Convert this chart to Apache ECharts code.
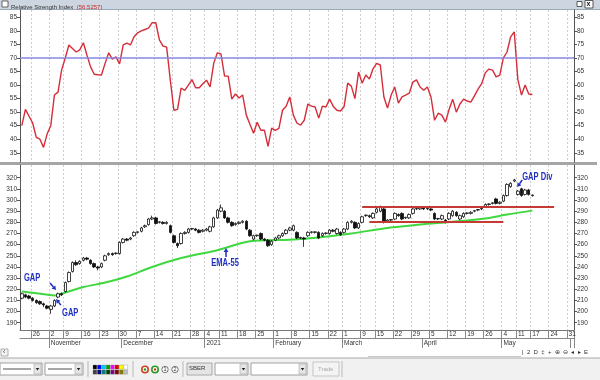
<!DOCTYPE html>
<html>
<head>
<meta charset="utf-8">
<script src="https://cdn.jsdelivr.net/npm/echarts@6/dist/echarts.min.js"></script>
<style>
html, body { margin: 0; padding: 0; background: #fff; }
#chart { width: 600px; height: 380px; }
</style>
</head>
<body>
<div id="chart"></div>
<script>
// trading calendar (MOEX), weekends and these holidays are skipped
const firstDay = '2020-10-21';
const lastDay = '2021-06-01';
const holidays = ['2020-11-04', '2021-01-01', '2021-01-07', '2021-02-23', '2021-03-08', '2021-05-03', '2021-05-10'];
const monthNames = ['2021', 'February', 'March', 'April', 'May', '', '', '', '', 'October', 'November', 'December'];

// SBER daily candles: [open, close, low, high]
const candles = [
    [212, 216, 211, 217], [215, 213, 212, 216], [214, 212, 211, 215], [212, 210, 209, 213], [210, 208, 207, 211],
    [209, 207, 206, 210], [207, 206, 204, 208], [205, 203, 202, 206], [202, 205, 198, 206], [205, 210, 204, 211],
    [213, 216, 212, 217], [216, 215, 214, 217], [218, 226, 217, 227], [227, 235, 226, 236], [236, 244, 235, 245],
    [244, 242, 241, 246], [243, 245, 242, 246], [246, 248, 245, 249], [248, 247, 246, 249], [246, 243, 242, 247],
    [243, 240, 239, 244], [240, 239, 237, 241], [240, 243, 239, 244], [246, 250, 245, 251], [251, 252, 250, 253],
    [252, 251, 250, 253], [252, 252.5, 251, 253], [252, 262, 251, 263], [262, 265, 261, 266], [265, 264, 263, 266],
    [265, 266, 264, 267], [268, 271, 267, 272], [271, 271.5, 270, 272], [272, 275, 271, 276], [276, 277, 275, 278],
    [278, 283, 277, 284], [283, 284, 282, 286], [284, 279, 278, 285], [280, 280.5, 279, 281], [280, 279, 278, 281],
    [279, 280, 278, 281], [277, 271, 270, 278], [268, 262, 261, 269], [261, 259, 257, 262], [261, 270, 260, 271],
    [270, 271, 269, 272], [271, 274, 270, 275], [274, 274.5, 273, 275], [274, 273, 272, 275], [273, 271, 270, 274],
    [272, 273, 271, 274], [273, 274, 272, 275], [272, 276, 271, 277], [276, 284, 275, 285], [284, 291, 283, 292],
    [290, 293, 289, 296], [290, 284, 283, 291], [284, 280, 279, 285], [280, 277, 276, 281], [278, 279, 277, 280],
    [279, 280, 278, 281], [280, 281, 279, 282], [281, 274, 273, 282], [273, 268, 267, 274], [265, 268, 264, 269],
    [268, 268.5, 267, 269], [270, 265, 264, 271], [265, 264, 263, 266], [264, 259, 258, 265], [260, 263, 259, 264],
    [264, 266, 263, 267], [266, 268, 265, 269], [268, 270, 267, 271], [270, 273, 269, 274], [273, 275, 272, 276],
    [273, 277, 272, 278], [271, 266, 265, 272], [266, 266.5, 265, 267], [266, 265, 258, 267], [268, 271, 267, 272],
    [271, 271.5, 270, 272], [271, 271.5, 270, 272], [271, 266, 265, 272], [268, 270, 267, 271], [270, 270.5, 269, 271],
    [270, 273, 269, 274], [273, 272, 271, 274], [270, 274, 269, 275], [271, 269, 268, 272], [271, 274, 270, 275],
    [274, 280, 273, 281], [280, 281, 279, 282], [280, 275, 274, 281], [275, 279, 274, 280], [280, 285, 279, 286],
    [286, 286.5, 285, 287], [286, 285, 284, 287], [284, 288, 283, 289], [289, 292, 288, 293], [290, 294, 289, 295],
    [292, 280, 279, 293], [281, 282, 280, 283], [282, 282.5, 281, 283], [283, 288, 282, 289], [287, 286, 285, 288],
    [288, 283, 282, 289], [284, 284.5, 283, 285], [284, 287, 283, 288], [288, 292, 287, 293], [292, 292.5, 291, 293],
    [292, 293, 291, 294], [293, 292, 291, 294], [292, 292.5, 291, 293], [292, 291, 290, 293], [288, 283, 282, 289],
    [283, 283.5, 282, 284], [283, 286, 282, 287], [282, 280, 279, 283], [283, 288, 282, 289], [286, 290, 285, 291],
    [289, 286, 285, 290], [283, 286, 282, 287], [285, 288, 284, 289], [288, 288.5, 287, 289], [288, 289, 287, 290],
    [290, 290.5, 289, 291], [291, 291.5, 290, 292], [292, 292.5, 291, 293], [294, 296, 293, 297], [296, 296.5, 295, 297],
    [297, 297.5, 296, 298], [301, 297, 296, 302], [297, 298, 296, 299], [299, 304, 298, 305], [304, 314, 303, 315],
    [312, 315, 311, 316], [317, 318, 316, 319], [305, 308, 304, 309], [310, 304, 303, 311], [305, 309, 304, 310],
    [309, 305, 304, 310], [304, 304.5, 303, 305]
];

// RSI(14), one value per trading day
const rsi = [
    45, 51, 48.5, 46, 40.7, 40, 37, 42, 45, 56.3,
    57.4, 65.6, 70, 74.8, 73.5, 72.2, 73, 75.6, 71, 66.7,
    64, 63.8, 63.7, 68, 71.9, 69.6, 70.4, 67.8, 74.8, 75.5,
    74.8, 77.8, 79.3, 80, 80.5, 81, 83, 83, 76.7, 74.4,
    74, 62, 50.7, 51, 58.9, 58, 60, 62, 59, 59,
    60.5, 61.8, 59.3, 68, 71.9, 71.5, 63.3, 63.3, 54.8, 56.7,
    55.2, 56.3, 48.9, 45.5, 42.2, 46.3, 43.3, 43.3, 37.4, 44.1,
    43.3, 44, 50.7, 52.2, 55.6, 48.9, 45.9, 45.2, 47, 53,
    52.2, 51.9, 47.8, 52.2, 51.9, 54.8, 52.2, 50.7, 50.4, 52,
    60.7, 59.6, 55, 64.8, 60.7, 63.7, 62.2, 66, 68, 67.4,
    55.6, 51.5, 56.3, 59.3, 53.3, 55.6, 56.3, 57, 61.1, 61.9,
    59.3, 58.1, 59.3, 55.6, 47, 49.6, 48.9, 46.3, 51, 54.8,
    50, 53, 54.8, 54.1, 53.7, 56, 58.5, 60.5, 64.5, 65.9,
    65.5, 63, 63.7, 70, 72.2, 77.8, 79.6, 62, 56.3, 60,
    56.7, 56.5
];

// EMA-55: [day index, value]
const ema55 = [
    [0, 218], [4, 216.5], [9, 214.5], [10, 215], [17, 222], [23, 226], [29, 231.4], [36, 240],
    [44, 248], [54, 255], [63, 263], [74, 264.5], [82, 266.5], [91, 270], [100, 274.5],
    [110, 278], [119, 280.5], [128, 283.5], [134, 287], [141, 290.5]
];

// drawn levels: [from day, to day, price]
const resistance = [94, 147, 294];
const support = [96, 133, 280.5];

const rsiLevel = 70;
const rsiTicks = [35, 40, 45, 50, 55, 60, 65, 70, 75, 80, 85];
const priceTicks = [190, 200, 210, 220, 230, 240, 250, 260, 270, 280, 290, 300, 310, 320];

// annotations in data coords (day index, price)
const notes = [
    { text: 'GAP', at: [0.6, 234.5], from: [7.8, 225.6], to: [9.45, 219.3] },
    { text: 'GAP', at: [11.1, 204], from: [10.8, 205.8], to: [9.45, 211.2] },
    { text: 'EMA-55', at: [52.3, 248], from: [56.4, 248.9], to: [56.4, 257] },
    { text: 'GAP Div', at: [138.2, 325.1], from: [138.2, 318], to: [136.8, 311.7] }
];

const days = [];
for (let d = new Date(firstDay + 'T00:00:00Z'); d <= new Date(lastDay + 'T00:00:00Z'); d.setUTCDate(d.getUTCDate() + 1)) {
    const s = d.toISOString().slice(0, 10);
    const wd = d.getUTCDay();
    if (wd === 0 || wd === 6 || holidays.includes(s)) continue;
    days.push(s);
}
const wday = (s) => new Date(s + 'T00:00:00Z').getUTCDay();
const weekStart = (i) => i > 0 && wday(days[i]) < wday(days[i - 1]);
const monthStart = (i) => i > 0 && days[i].slice(5, 7) !== days[i - 1].slice(5, 7);

const FONT = 'Liberation Sans, Arial, sans-serif';
const axisGray = '#555';
const tickFont = { fontSize: 6.5, color: '#333', fontFamily: FONT };

const yAxisBase = (grid, pos, min, max, ticks) => ({
    type: 'value', gridIndex: grid, position: pos, min: min, max: max, scale: true,
    axisLine: { show: true, lineStyle: { color: axisGray, width: 1 } },
    axisTick: { show: true, length: 3, customValues: ticks, lineStyle: { color: axisGray } },
    axisLabel: Object.assign({ margin: 3, customValues: ticks }, tickFont),
    splitLine: { show: false }
});

const weekSplit = {
    show: true,
    interval: (i) => weekStart(i),
    lineStyle: { color: '#cfcfcf', type: [2, 2], width: 1 }
};

const option = {
    animation: false,
    backgroundColor: '#fff',
    grid: [
        { left: 20, right: 26, top: 10, height: 152 },
        { left: 20, right: 26, top: 165, height: 165 }
    ],
    xAxis: [
        {
            type: 'category', gridIndex: 0, data: days, boundaryGap: true,
            axisLine: { show: false }, axisTick: { show: false, interval: (i) => weekStart(i) },
            axisLabel: { show: false, interval: (i) => weekStart(i) },
            splitLine: weekSplit
        },
        {
            type: 'category', gridIndex: 1, data: days, boundaryGap: true, position: 'bottom',
            axisLine: { show: true, lineStyle: { color: '#777' } },
            axisTick: { show: true, interval: (i) => weekStart(i), length: 8, lineStyle: { color: '#888' } },
            axisLabel: Object.assign({
                interval: (i) => weekStart(i), align: 'left', margin: 1,
                formatter: (v) => String(Number(v.slice(8)))
            }, tickFont),
            splitLine: weekSplit
        },
        {
            type: 'category', gridIndex: 1, data: days, boundaryGap: true, position: 'bottom', offset: 8,
            axisLine: { show: true, lineStyle: { color: '#888' } },
            axisTick: { show: true, interval: (i) => monthStart(i), length: 10, lineStyle: { color: '#888' } },
            axisLabel: Object.assign({
                interval: (i) => monthStart(i), align: 'left', margin: 2,
                formatter: (v) => monthNames[Number(v.slice(5, 7)) - 1]
            }, tickFont),
            splitLine: { show: false }
        }
    ],
    yAxis: [
        yAxisBase(0, 'left', 31.6, 87.7, rsiTicks),
        yAxisBase(0, 'right', 31.6, 87.7, rsiTicks),
        yAxisBase(1, 'left', 183.5, 331.4, priceTicks),
        yAxisBase(1, 'right', 183.5, 331.4, priceTicks)
    ],
    series: [
        {
            name: 'RSI', type: 'line', xAxisIndex: 0, yAxisIndex: 0, data: rsi,
            symbol: 'none', lineStyle: { color: '#d62d3a', width: 1.4 }, z: 3,
            markLine: {
                silent: true, symbol: ['none', 'none'], label: { show: false },
                lineStyle: { color: '#8787e2', width: 1.5, type: 'solid' },
                data: [{ yAxis: rsiLevel }]
            }
        },
        {
            name: 'SBER', type: 'candlestick', xAxisIndex: 1, yAxisIndex: 2, data: candles,
            barWidth: 3, z: 4,
            itemStyle: { color: '#fff', color0: '#111', borderColor: '#111', borderColor0: '#111', borderWidth: 0.8 },
            markLine: {
                silent: true, symbol: ['none', 'none'], label: { show: false },
                lineStyle: { color: '#c43a35', width: 2, type: 'solid' },
                data: [
                    [{ coord: [resistance[0], resistance[2]] }, { coord: [resistance[1], resistance[2]] }],
                    [{ coord: [support[0], support[2]] }, { coord: [support[1], support[2]] }]
                ]
            }
        },
        {
            name: 'EMA-55', type: 'line', xAxisIndex: 1, yAxisIndex: 2, data: ema55,
            symbol: 'none', smooth: 0.3, lineStyle: { color: '#3fd83f', width: 2 }, z: 2
        }
    ]
};

const chart = echarts.init(document.getElementById('chart'), null, { renderer: 'canvas' });
chart.setOption(option);

// pixel of a fractional day index on the price grid
const toPx = (i, v) => {
    const a = chart.convertToPixel({ xAxisIndex: 1, yAxisIndex: 2 }, [0, v]);
    const b = chart.convertToPixel({ xAxisIndex: 1, yAxisIndex: 2 }, [1, v]);
    return [a[0] + (b[0] - a[0]) * i, a[1]];
};

const noteBlue = '#1f2fc0';
const gfx = [];

// window chrome: title bar, panel separator, scroll bar, toolbar
gfx.push({ type: 'rect', shape: { x: 0, y: 0, width: 600, height: 9 }, style: { fill: '#cdd6e0' }, silent: true });
gfx.push({ type: 'line', shape: { x1: 0, y1: 9.5, x2: 600, y2: 9.5 }, style: { stroke: '#9aa8b8', lineWidth: 1 } });
gfx.push({ type: 'rect', shape: { x: 2, y: 1, width: 6, height: 6 }, style: { fill: '#fff', stroke: '#444', lineWidth: 0.8 } });
gfx.push({
    type: 'text', x: 11, y: 1.2,
    style: {
        text: '{a|Relative Strength Index} {b|(56.5257)}',
        rich: { a: { fontSize: 6, fill: '#333', fontFamily: FONT }, b: { fontSize: 6, fill: '#d02828', fontFamily: FONT } }
    }
});
gfx.push({ type: 'rect', shape: { x: 577, y: 1.5, width: 5, height: 5 }, style: { fill: '#fff', stroke: '#333', lineWidth: 0.8 } });
gfx.push({ type: 'rect', shape: { x: 585, y: 0.5, width: 8, height: 7.5 }, style: { fill: '#fff', stroke: '#333', lineWidth: 0.8 } });
gfx.push({ type: 'text', x: 586.6, y: 0.6, style: { text: 'x', fontSize: 7, fontWeight: 'bold', fill: '#111', fontFamily: FONT } });

gfx.push({ type: 'rect', shape: { x: 0, y: 162, width: 597, height: 3 }, style: { fill: '#a6a6a6' }, silent: true });

gfx.push({ type: 'rect', shape: { x: 1, y: 349, width: 7, height: 7 }, style: { fill: '#f4f4f4', stroke: '#999', lineWidth: 0.8 } });
gfx.push({ type: 'text', x: 3, y: 349, style: { text: '‹', fontSize: 7, fill: '#444', fontFamily: FONT } });
gfx.push({ type: 'line', shape: { x1: 368, y1: 356.5, x2: 521, y2: 356.5 }, style: { stroke: '#c8c8c8', lineWidth: 1 } });
gfx.push({ type: 'text', x: 522, y: 349.5, style: { text: '|  2  D  ‡  +  ⊕  ⊖  ◂  ▸  E', fontSize: 6, fill: '#333', fontFamily: FONT } });

gfx.push({ type: 'rect', shape: { x: 0, y: 358, width: 600, height: 22 }, style: { fill: '#f1f1f1' }, silent: true });
gfx.push({ type: 'line', shape: { x1: 0, y1: 358, x2: 600, y2: 358 }, style: { stroke: '#a9a9a9', lineWidth: 1 } });

const dropdown = (x, w, withLine) => {
    gfx.push({ type: 'rect', shape: { x: x, y: 363, width: w, height: 12 }, style: { fill: '#fff', stroke: '#8a8a8a', lineWidth: 0.8 } });
    gfx.push({ type: 'rect', shape: { x: x + w - 8, y: 364, width: 7, height: 10 }, style: { fill: '#e6e6e6', stroke: '#aaa', lineWidth: 0.6 } });
    gfx.push({ type: 'polygon', shape: { points: [[x + w - 6.3, 368], [x + w - 2.7, 368], [x + w - 4.5, 370.5]] }, style: { fill: '#222' } });
    if (withLine) {
        gfx.push({ type: 'line', shape: { x1: x + 3, y1: 369, x2: x + w - 11, y2: 369 }, style: { stroke: '#222', lineWidth: 0.8 } });
    }
};
const sep = (x) => gfx.push({ type: 'line', shape: { x1: x, y1: 361, x2: x, y2: 377 }, style: { stroke: '#b9b9b9', lineWidth: 1 } });

dropdown(0, 42, true);
dropdown(45, 38, true);
sep(88);
const palette = [
    ['#000000', '#0000ff', '#00c8ff', '#00a000', '#ff00ff', '#e00000', '#ffff00', '#ffffff'],
    ['#404040', '#000080', '#008080', '#004000', '#800080', '#800000', '#808000', '#c0c0c0']
];
palette.forEach((row, r) => row.forEach((c, k) => {
    gfx.push({ type: 'rect', shape: { x: 93 + k * 4.4, y: 365 + r * 5, width: 3.8, height: 4.2 }, style: { fill: c, stroke: '#777', lineWidth: 0.3 } });
}));
sep(133);
[['#d04020', '#2a9a2a'], ['#2a9a2a', '#d04020']].forEach((cc, k) => {
    gfx.push({ type: 'circle', shape: { cx: 145 + k * 10, cy: 369.5, r: 3.2 }, style: { fill: '#fff', stroke: cc[0], lineWidth: 1.6 } });
    gfx.push({ type: 'circle', shape: { cx: 145 + k * 10, cy: 369.5, r: 1.2 }, style: { fill: cc[1] } });
});
['1', '2'].forEach((t, k) => {
    gfx.push({ type: 'circle', shape: { cx: 165 + k * 10, cy: 369.5, r: 3.2 }, style: { fill: '#fff', stroke: '#555', lineWidth: 0.8 } });
    gfx.push({ type: 'text', x: 163.6 + k * 10, y: 366.4, style: { text: t, fontSize: 5.5, fill: '#333', fontFamily: FONT } });
});
sep(183);
gfx.push({ type: 'rect', shape: { x: 187, y: 363, width: 25, height: 12 }, style: { fill: '#e4e4e4', stroke: '#9a9a9a', lineWidth: 0.8 } });
gfx.push({ type: 'text', x: 189, y: 365.5, style: { text: 'SBER', fontSize: 6, fill: '#333', fontFamily: FONT } });
dropdown(215, 33, false);
dropdown(251, 56, false);
gfx.push({ type: 'rect', shape: { x: 313, y: 362, width: 26, height: 14 }, style: { fill: '#f4f4f4', stroke: '#bbb', lineWidth: 0.8 } });
gfx.push({ type: 'text', x: 318, y: 366, style: { text: 'Trade', fontSize: 6, fill: '#aaa', fontFamily: FONT } });
sep(342);

// GAP / EMA-55 / GAP Div notes with arrows
notes.forEach((n) => {
    const p = toPx(n.at[0], n.at[1]);
    gfx.push({
        type: 'text', x: p[0], y: p[1], scaleX: 0.72, z: 10,
        style: { text: n.text, fontSize: 10.5, fontWeight: 'bold', fill: noteBlue, fontFamily: FONT }
    });
    const a = toPx(n.from[0], n.from[1]);
    const b = toPx(n.to[0], n.to[1]);
    const dx = b[0] - a[0], dy = b[1] - a[1];
    const len = Math.sqrt(dx * dx + dy * dy);
    const ux = dx / len, uy = dy / len;
    const hl = 4, hw = 2.4;
    const base = [b[0] - ux * hl, b[1] - uy * hl];
    gfx.push({ type: 'line', z: 10, shape: { x1: a[0], y1: a[1], x2: base[0], y2: base[1] }, style: { stroke: noteBlue, lineWidth: 1.5 } });
    gfx.push({
        type: 'polygon', z: 10,
        shape: { points: [b, [base[0] - uy * hw, base[1] + ux * hw], [base[0] + uy * hw, base[1] - ux * hw]] },
        style: { fill: noteBlue }
    });
});

chart.setOption({ graphic: gfx });
</script>
</body>
</html>
